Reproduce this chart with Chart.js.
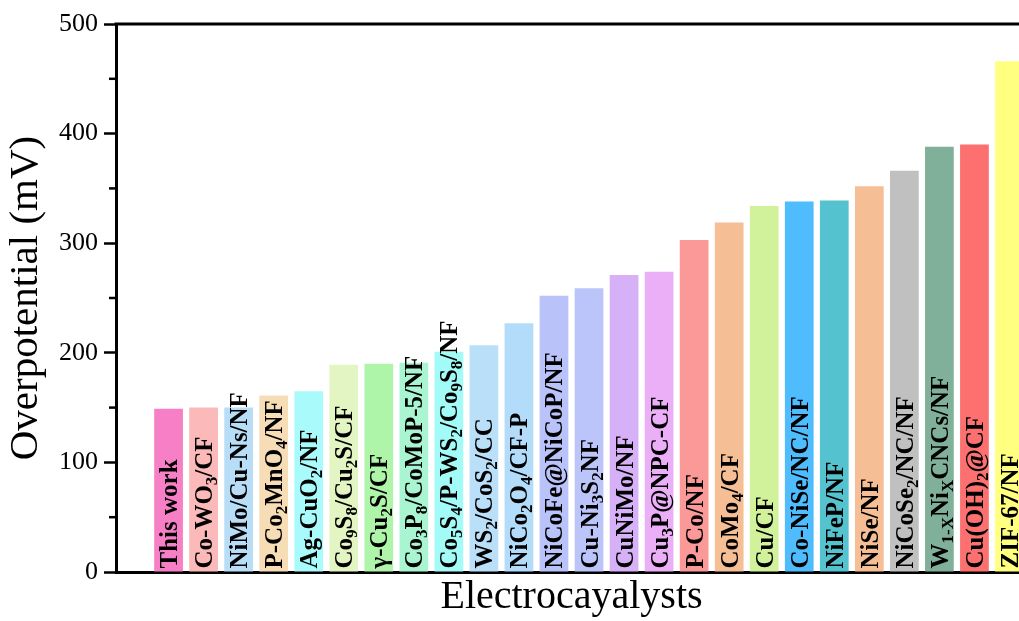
<!DOCTYPE html>
<html>
<head>
<meta charset="utf-8">
<script src="https://cdn.jsdelivr.net/npm/chart.js@4/dist/chart.umd.min.js"></script>
<style>
  html, body { margin: 0; padding: 0; overflow: hidden; background: #fff; }
</style>
</head>
<body>
<canvas id="myChart" width="1045" height="621"></canvas>
<script>
// '_x' or '_{..}' marks a subscript in the labels
const categories = [
    'This work', 'Co-WO_3/CF', 'NiMo/Cu-Ns/NF', 'P-Co_2MnO_4/NF', 'Ag-CuO_2/NF',
    'Co_9S_8/Cu_2S/CF', 'γ-Cu_2S/CF', 'Co_3P_8/CoMoP-5/NF', 'Co_5S_4/P-WS_2/Co_9S_8/NF',
    'WS_2/CoS_2/CC', 'NiCo_2O_4/CF-P', 'NiCoFe@NiCoP/NF', 'Cu-Ni_3S_2NF', 'CuNiMo/NF',
    'Cu_3P@NPC-CF', 'P-Co/NF', 'CoMo_4/CF', 'Cu/CF', 'Co-NiSe/NC/NF', 'NiFeP/NF',
    'NiSe/NF', 'NiCoSe_2/NC/NF', 'W_{1-X}Ni_XCNCs/NF', 'Cu(OH)_2@CF', 'ZIF-67/NF'
];
const overpotential = [149, 150, 150, 161, 165, 189, 190, 191, 201, 207, 227, 252, 259,
    271, 274, 303, 319, 334, 338, 339, 352, 366, 388, 390, 466];
const colors = [
    '#f77fc6', '#fbb9b9', '#b8ddf6', '#f7ddb6', '#a9fafa',
    '#e2f5c2', '#aff5a9', '#a9f5d2', '#a2fbf6', '#badff9',
    '#b2dcfa', '#b9c3fa', '#bcc5fa', '#d6b1f7', '#ebaff8',
    '#fb9999', '#f6be95', '#d1f29a', '#4fbdfd', '#55c2cf',
    '#f6be95', '#c0c0c0', '#80b09a', '#fc7070', '#ffff80'
];
const yMin = 0, yMax = 500, yStep = 100, yMinorStep = 50;

const serif = '"Liberation Serif", "Times New Roman", serif';

function parseLabel(s) {
    const segs = [];
    let buf = '';
    let i = 0;
    while (i < s.length) {
        if (s[i] === '_') {
            if (buf) { segs.push({t: buf, sub: false}); buf = ''; }
            if (s[i + 1] === '{') {
                const j = s.indexOf('}', i);
                segs.push({t: s.slice(i + 2, j), sub: true});
                i = j + 1;
            } else {
                segs.push({t: s[i + 1], sub: true});
                i += 2;
            }
        } else {
            buf += s[i];
            i++;
        }
    }
    if (buf) segs.push({t: buf, sub: false});
    return segs;
}

// vertical names written inside the bars
const barNames = {
    id: 'barNames',
    afterDatasetsDraw(chart) {
        const ctx = chart.ctx;
        const meta = chart.getDatasetMeta(0);
        meta.data.forEach((bar, i) => {
            if (i === 0) return; // blank slot
            const segs = parseLabel(categories[i - 1]);
            ctx.save();
            ctx.translate(bar.x + 8.5, bar.base - 3);
            ctx.rotate(-Math.PI / 2);
            ctx.fillStyle = '#000';
            ctx.textAlign = 'left';
            ctx.textBaseline = 'alphabetic';
            let x = 0;
            segs.forEach(sg => {
                ctx.font = sg.sub ? 'bold 17px ' + serif : 'bold 25px ' + serif;
                ctx.fillText(sg.t, x, sg.sub ? 5 : 0);
                x += ctx.measureText(sg.t).width;
            });
            ctx.restore();
        });
    },
    afterDraw(chart) {
        const ctx = chart.ctx;
        const a = chart.chartArea;
        const y = chart.scales.y;
        ctx.save();
        ctx.strokeStyle = '#000';
        ctx.lineWidth = 3;
        ctx.beginPath();
        ctx.moveTo(a.left - 1.5, a.top);
        ctx.lineTo(a.right, a.top);
        ctx.stroke();
        ctx.lineWidth = 2.5;
        for (let v = yMin + yMinorStep; v < yMax; v += yStep) {
            const py = y.getPixelForValue(v);
            ctx.beginPath();
            ctx.moveTo(a.left - 7, py);
            ctx.lineTo(a.left, py);
            ctx.stroke();
        }
        ctx.restore();
    }
};

const ctx = document.getElementById('myChart').getContext('2d');

const myChart = new Chart(ctx, {
    type: 'bar',
    data: {
        labels: [''].concat(categories),
        datasets: [{
            data: [null].concat(overpotential),
            backgroundColor: [null].concat(colors),
            borderWidth: 0,
            categoryPercentage: 1,
            barPercentage: 0.82
        }]
    },
    options: {
        responsive: false,
        animation: false,
        layout: { padding: { top: 24, right: 18, left: 0, bottom: 0 } },
        scales: {
            x: {
                afterFit: (s) => { s.height = 49; },
                grid: { display: false },
                border: { display: true, color: '#000', width: 3 },
                ticks: { display: false },
                title: {
                    display: true,
                    text: 'Electrocayalysts',
                    color: '#000',
                    font: { family: serif, size: 40, lineHeight: 1.2 },
                    padding: { top: 0, bottom: 0 }
                }
            },
            y: {
                min: yMin,
                max: yMax,
                afterFit: (s) => { s.width = 116; },
                ticks: {
                    stepSize: yStep,
                    color: '#000',
                    padding: 6,
                    font: { family: serif, size: 26 }
                },
                grid: {
                    drawOnChartArea: false,
                    drawTicks: true,
                    tickLength: 12,
                    tickColor: '#000',
                    tickWidth: 2.5
                },
                border: { display: true, color: '#000', width: 3 },
                title: {
                    display: true,
                    text: 'Overpotential (mV)',
                    color: '#000',
                    font: { family: serif, size: 41, lineHeight: 1.2 },
                    padding: { top: 2, bottom: 0 }
                }
            }
        },
        plugins: {
            legend: { display: false },
            tooltip: { enabled: false }
        }
    },
    plugins: [barNames]
});
</script>
</body>
</html>
